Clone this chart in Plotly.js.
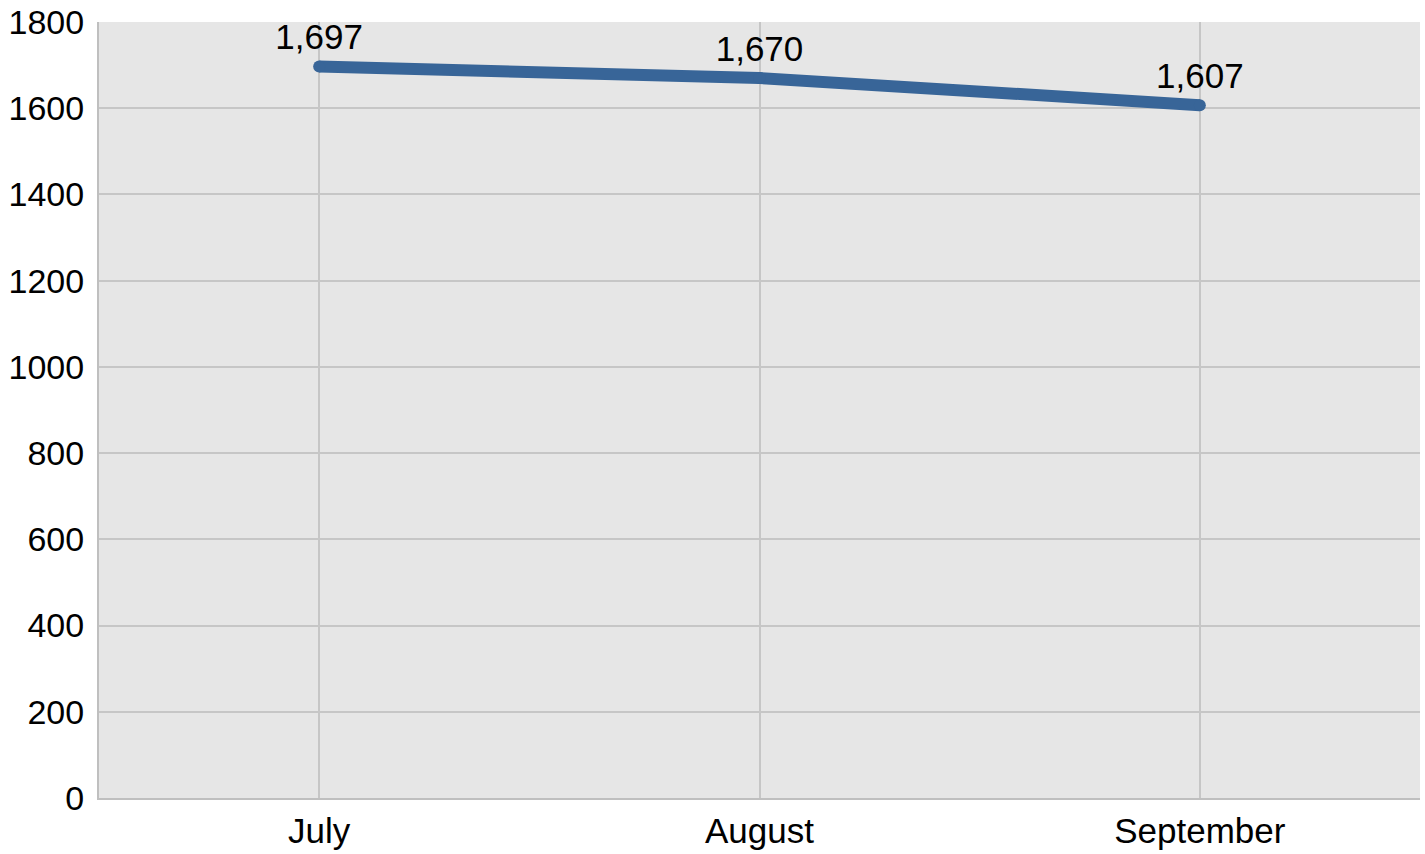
<!DOCTYPE html>
<html>
<head>
<meta charset="utf-8">
<script src="https://cdn.plot.ly/plotly-3.0.1.min.js"></script>
<style>html,body{margin:0;padding:0;background:#fff;}#chart{width:1425px;height:854px;}</style>
</head>
<body>
<div id="chart"></div>
<script>
const months = ["July", "August", "September"];
const values = [1697, 1670, 1607];
const valueLabels = ["1,697", "1,670", "1,607"];
const yTicks = [0, 200, 400, 600, 800, 1000, 1200, 1400, 1600, 1800];

const trace = {
  x: months,
  y: values,
  type: "scatter",
  mode: "lines+markers+text",
  line: {color: "#386598", width: 12},
  marker: {color: "#386598", size: 12},
  text: valueLabels,
  textposition: "top center",
  textfont: {family: "Liberation Sans, Arial, sans-serif", size: 35, color: "#000"},
  cliponaxis: false,
  hoverinfo: "none"
};

const layout = {
  width: 1425, height: 854,
  margin: {l: 99, r: 5, t: 22, b: 56},
  paper_bgcolor: "#ffffff",
  plot_bgcolor: "#e6e6e6",
  showlegend: false,
  font: {family: "Liberation Sans, Arial, sans-serif", size: 34, color: "#000"},
  xaxis: {
    type: "category",
    range: [-0.5, 2.5],
    showgrid: true, gridcolor: "#c6c6c6", gridwidth: 2,
    showline: true, linecolor: "#bfbfbf", linewidth: 2,
    ticks: "", ticklabelstandoff: 1,
    tickfont: {size: 35},
    zeroline: false
  },
  yaxis: {
    range: [0, 1800],
    tickvals: yTicks,
    ticktext: yTicks.map(String),
    showgrid: true, gridcolor: "#c6c6c6", gridwidth: 2,
    showline: true, linecolor: "#bfbfbf", linewidth: 2,
    ticks: "", ticklabelstandoff: 6,
    tickfont: {size: 34},
    zeroline: false
  }
};

Plotly.newPlot("chart", [trace], layout, {displayModeBar: false, staticPlot: true});
</script>
</body>
</html>
